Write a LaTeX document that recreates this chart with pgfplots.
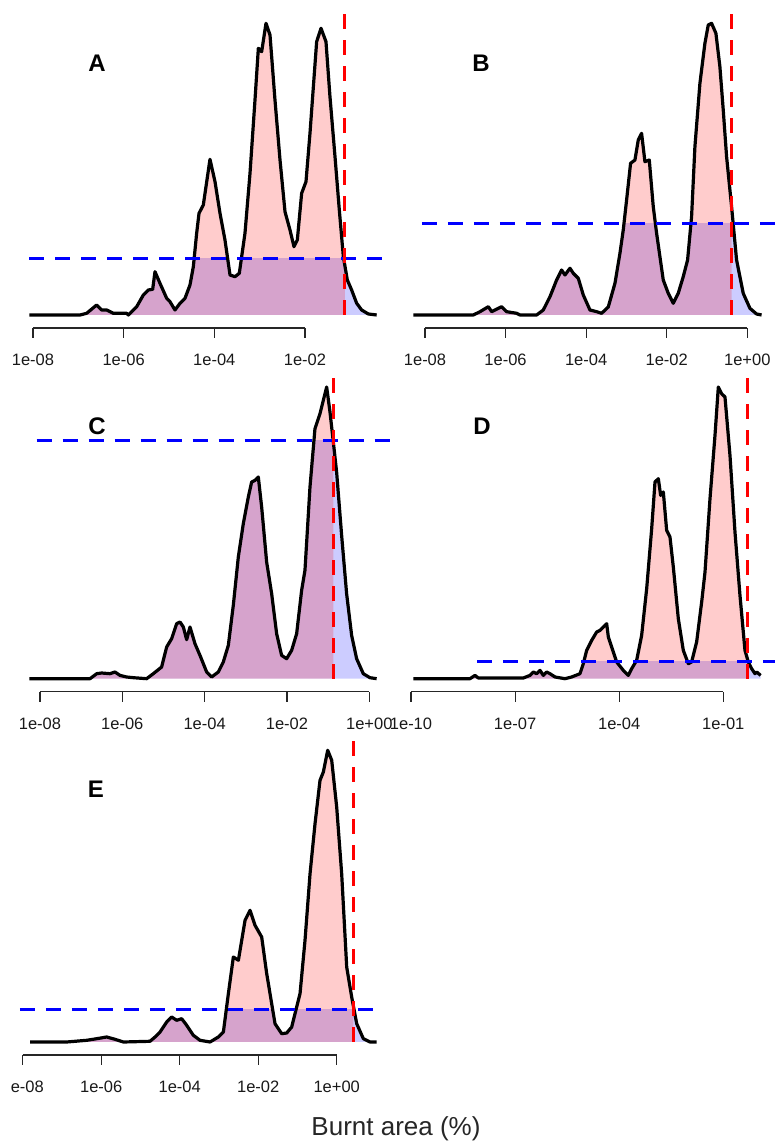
\documentclass[border=0pt]{standalone}
\usepackage{fontspec}
\setmainfont{Liberation Sans}
\usepackage{pgfplots}
\usepackage{pgfplotstable}
\pgfplotsset{compat=1.18}
\definecolor{rline}{RGB}{255,0,0}
\definecolor{bline}{RGB}{0,0,255}

\pgfplotstableread{
x h
-8.081 0
-6.963 0
-6.816 1.7
-6.596 10
-6.485 5
-6.375 5
-6.228 1.7
-5.934 1.7
-5.897 0
-5.713 8.3
-5.566 20
-5.456 25
-5.360 25.7
-5.309 43.3
-5.199 31.7
-5.051 16.7
-4.978 13.3
-4.868 5
-4.757 11.7
-4.647 16.7
-4.537 30
-4.463 48.3
-4.390 81.7
-4.338 101.7
-4.243 110
-4.096 155.7
-3.985 133.3
-3.875 101.7
-3.765 75
-3.654 40
-3.544 38.3
-3.449 41.7
-3.324 81.7
-3.213 141.7
-3.103 215
-3.029 266.7
-2.956 263.3
-2.860 291.7
-2.772 280
-2.662 215
-2.551 155
-2.441 103.3
-2.331 85
-2.243 68.3
-2.169 75
-2.074 121.7
-1.978 133.3
-1.890 181.7
-1.743 273.3
-1.647 286.7
-1.537 273.3
-1.449 218.3
-1.338 158.3
-1.243 105
-1.154 58.3
-1.066 35
-0.971 25
-0.860 11.7
-0.750 5
-0.603 1
-0.419 0
}\dataA

\pgfplotstableread{
x h
-8.29 0
-7.876 0
-6.801 0
-6.635 3.3
-6.428 8.3
-6.346 3.3
-6.098 8.3
-5.974 3.3
-5.725 1.7
-5.643 0
-5.229 0
-5.064 5
-4.898 18.3
-4.733 35
-4.609 45
-4.526 40
-4.402 46.7
-4.319 41.7
-4.195 36.7
-4.071 20
-3.906 5
-3.740 3.3
-3.616 1.7
-3.451 8
-3.285 31.7
-3.161 61.7
-3.079 85
-2.996 115
-2.897 151.7
-2.789 155
-2.706 175
-2.624 181.7
-2.541 153.3
-2.433 155
-2.334 108.3
-2.251 81.7
-2.086 35
-1.962 21.7
-1.838 11.7
-1.714 21.7
-1.590 38.3
-1.482 55
-1.383 98.3
-1.300 168.3
-1.176 231.7
-1.052 271.7
-0.969 290
-0.887 291.7
-0.779 281.7
-0.680 248.3
-0.597 205
-0.514 158.3
-0.390 108.3
-0.266 55
-0.101 21.7
0.065 6.7
0.230 1
0.354 0
}\dataB

\pgfplotstableread{
x h
-8.259 0
-7.352 0
-6.785 0
-6.623 5
-6.502 5.7
-6.300 5
-6.178 6.7
-6.057 3.3
-5.895 1.7
-5.733 1
-5.409 0
-5.247 5
-5.045 11.7
-4.923 31.7
-4.802 40
-4.680 55
-4.599 56.7
-4.518 51.7
-4.437 39
-4.356 51.7
-4.235 35
-4.113 23.3
-3.951 6.7
-3.830 1.7
-3.668 6.7
-3.547 16.7
-3.425 33.3
-3.304 73.3
-3.182 121.7
-3.061 155
-2.939 181.7
-2.858 196.7
-2.777 198.3
-2.696 201.7
-2.615 171.7
-2.494 116.7
-2.372 85
-2.251 45
-2.130 23.3
-2.008 20
-1.887 28.3
-1.765 45
-1.644 88.3
-1.563 108.3
-1.441 191.7
-1.320 250
-1.198 265
-1.036 291.7
-0.955 266.7
-0.874 236.7
-0.794 206.7
-0.672 143.3
-0.551 85
-0.429 43.3
-0.308 20
-0.146 5
0.016 1
0.178 0
}\dataC

\pgfplotstableread{
x h
-9.933 0
-8.300 0
-8.156 3.3
-8.060 0.7
-6.763 0.7
-6.571 3.3
-6.475 6.7
-6.378 5
-6.282 8.3
-6.186 3.3
-6.090 6.7
-5.994 5
-5.850 1.7
-5.562 0
-5.370 1.7
-5.130 5
-5.034 15
-4.938 28.3
-4.793 38.3
-4.649 46.7
-4.553 48.3
-4.457 51.7
-4.361 55
-4.313 41.7
-4.217 31.7
-4.073 16.7
-3.881 8.3
-3.737 3.3
-3.641 10
-3.497 18.3
-3.353 43.3
-3.208 90
-3.064 150
-2.968 196.7
-2.872 200
-2.805 183.3
-2.728 186.7
-2.632 148.3
-2.536 141.7
-2.440 111.7
-2.296 60
-2.152 28.3
-2.008 15
-1.912 16.7
-1.768 36.7
-1.623 76.7
-1.527 106.7
-1.383 180
-1.239 243.3
-1.143 291.7
-1.047 285
-0.951 281.7
-0.807 223.3
-0.663 146.7
-0.519 83.3
-0.375 28.3
-0.279 16.7
-0.183 10
-0.087 5
-0.038 6.7
0.077 3.3
}\dataD

\pgfplotstableread{
x h
-7.813 0
-6.879 0
-6.369 1.7
-6.115 3.3
-5.860 5
-5.648 2.7
-5.435 0
-4.756 0.7
-4.628 5
-4.501 10
-4.331 20
-4.204 25
-4.076 21.7
-3.949 23.3
-3.822 16.7
-3.652 6.7
-3.482 1.7
-3.227 0
-3.015 5
-2.887 10
-2.760 48.3
-2.633 85
-2.505 81.7
-2.335 121.7
-2.208 131.7
-2.081 116.7
-1.911 105
-1.783 68.3
-1.656 38.3
-1.571 18.3
-1.401 8.3
-1.274 9
-1.146 15
-1.019 35
-0.934 48.3
-0.807 101.7
-0.679 168.3
-0.552 218.3
-0.425 261.7
-0.340 270
-0.229 291.7
-0.127 281.7
0.000 235
0.127 168.3
0.255 75
0.382 45
0.510 18.3
0.679 3.3
0.849 0
1.019 0
}\dataE

\pgfplotsset{
  panel/.style={
    scale only axis, height=318pt, ymin=-13, ymax=305,
    anchor=south west,
    axis x line*=bottom, hide y axis,
    tick align=outside, major tick length=10pt,
    clip=false,
    x axis line style={line width=1.1pt, black!85},
    xtick style={line width=1.1pt, black!85},
    xticklabel style={font=\fontsize{16.5}{18}\selectfont, text=black!90, yshift=-12.5pt},
  },
  curve/.style={black, line width=3.2pt, line join=round},
  bdash/.style={bline, line width=3pt, dash pattern=on 15pt off 11pt},
  rdash/.style={rline, line width=3pt, dash pattern=on 15pt off 11pt},
  bfill/.style={draw=none, fill=bline, fill opacity=0.2},
  rfill/.style={draw=none, fill=rline, fill opacity=0.2},
}
% #1 table, #2 blue level, #3 red x, #4 blue start, #5 blue end
\newcommand{\panelbody}[5]{%
  \begin{scope}
    \clip (axis cs:-11,-2) rectangle (axis cs:3,#2);
    \addplot[bfill] table[x=x,y=h] {#1} \closedcycle;
  \end{scope}
  \begin{scope}
    \clip (axis cs:-11,-2) rectangle (axis cs:#3,400);
    \addplot[rfill] table[x=x,y=h] {#1} \closedcycle;
  \end{scope}
  \addplot[curve] table[x=x,y=h] {#1};
  \addplot[bdash] coordinates {(#4,#2) (#5,#2)};
  \addplot[rdash] coordinates {(#3,0) (#3,305)};
}
\begin{document}
\begin{tikzpicture}
\useasboundingbox (0pt,0pt) rectangle (775pt,1143pt);
\clip (0pt,0pt) rectangle (775pt,1143pt);

\begin{axis}[panel, at={(33pt,815pt)}, width=272pt, xmin=-8, xmax=-2,
  xtick={-8,-6,-4,-2}, xticklabels={1e-08,1e-06,1e-04,1e-02}]
\panelbody{\dataA}{56.7}{-1.118}{-8.08}{-0.124}
\end{axis}

\begin{axis}[panel, at={(425pt,815pt)}, width=322.3pt, xmin=-8, xmax=0,
  xtick={-8,-6,-4,-2,0}, xticklabels={1e-08,1e-06,1e-04,1e-02,1e+00}]
\panelbody{\dataB}{91.7}{-0.390}{-8.08}{0.685}
\end{axis}

\begin{axis}[panel, at={(40pt,451.3pt)}, width=329.3pt, xmin=-8, xmax=0,
  xtick={-8,-6,-4,-2,0}, xticklabels={1e-08,1e-06,1e-04,1e-02,1e+00}]
\panelbody{\dataC}{238.3}{-0.874}{-8.08}{0.502}
\end{axis}

\begin{axis}[panel, at={(411pt,451.3pt)}, width=312.3pt, xmin=-10, xmax=-1,
  xtick={-10,-7,-4,-1}, xticklabels={1e-10,1e-07,1e-04,1e-01}]
\panelbody{\dataD}{16.7}{-0.298}{-8.088}{0.49}
\end{axis}

\begin{scope}
\clip (11.7pt,0pt) rectangle (400pt,420pt);
\begin{axis}[panel, at={(22.7pt,88pt)}, width=314pt, xmin=-8, xmax=0,
  xtick={-8,-6,-4,-2,0}, xticklabels={1e-08,1e-06,1e-04,1e-02,1e+00}]
\panelbody{\dataE}{32.3}{0.425}{-8.07}{1.18}
\end{axis}
\end{scope}

\node[font=\fontsize{24}{28}\selectfont\bfseries] at (97pt,1080pt) {A};
\node[font=\fontsize{24}{28}\selectfont\bfseries] at (481pt,1080pt) {B};
\node[font=\fontsize{24}{28}\selectfont\bfseries] at (97pt,717pt) {C};
\node[font=\fontsize{24}{28}\selectfont\bfseries] at (482pt,717pt) {D};
\node[font=\fontsize{24}{28}\selectfont\bfseries] at (96pt,354pt) {E};
\node[font=\fontsize{26}{30}\selectfont, anchor=base, text=black!85] at (396pt,8pt) {Burnt area (\%)};
\end{tikzpicture}
\end{document}
